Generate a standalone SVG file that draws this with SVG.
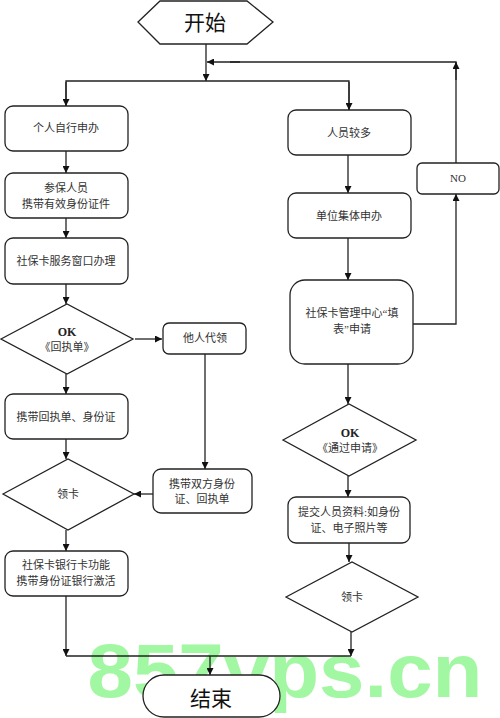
<svg xmlns="http://www.w3.org/2000/svg" width="500" height="718" viewBox="0 0 500 718">
<defs>
<marker id="ah" viewBox="0 0 10 10" refX="10" refY="5" markerWidth="7" markerHeight="7" markerUnits="userSpaceOnUse" orient="auto">
<path d="M0,0 L10,5 L0,10 z" fill="#111"/>
</marker>
<style>
.n{fill:#fff;stroke:#222;stroke-width:1.3}
.t{font-family:"Liberation Serif","Noto Sans CJK SC",serif;font-size:11px;fill:#333;text-anchor:middle}
.b{font-family:"Liberation Serif","Noto Sans CJK SC",serif;font-size:12px;font-weight:bold;fill:#222;text-anchor:middle}
.big{font-family:"Noto Sans CJK SC",sans-serif;font-size:21px;fill:#111;text-anchor:middle}
.c{fill:none;stroke:#222;stroke-width:1.3}
.ca{fill:none;stroke:#222;stroke-width:1.3;marker-end:url(#ah)}
</style>
</defs>
<rect width="500" height="718" fill="#fff"/>
<text x="285" y="697" font-family="Liberation Sans, sans-serif" font-weight="bold" font-size="76" fill="#a2f7a2" text-anchor="middle" textLength="395" lengthAdjust="spacingAndGlyphs">857vps.cn</text>
<g id="connectors">
<line class="ca" x1="206" y1="44" x2="206" y2="81"/>
<polyline class="c" points="66,106 66,81 349,81 349,110"/>
<line class="ca" x1="66" y1="82" x2="66" y2="106"/>
<line class="ca" x1="349" y1="82" x2="349" y2="110"/>
<line class="ca" x1="66" y1="151" x2="66" y2="173"/>
<line class="ca" x1="66" y1="218" x2="66" y2="238"/>
<line class="ca" x1="66" y1="284" x2="66" y2="304"/>
<line class="ca" x1="135" y1="339" x2="162" y2="339"/>
<line class="ca" x1="66" y1="374" x2="66" y2="394"/>
<line class="ca" x1="205" y1="354" x2="205" y2="469"/>
<line class="ca" x1="66" y1="439" x2="66" y2="459"/>
<line class="ca" x1="153" y1="494" x2="134" y2="494"/>
<line class="ca" x1="66" y1="530" x2="66" y2="551"/>
<line class="ca" x1="66" y1="596" x2="66" y2="656"/>
<line class="c" x1="66" y1="656" x2="351" y2="656"/>
<line class="ca" x1="210" y1="656" x2="210" y2="675"/>
<line class="ca" x1="348" y1="155" x2="348" y2="193"/>
<line class="ca" x1="348" y1="238" x2="348" y2="280"/>
<polyline class="ca" points="413,324 456,324 456,194"/>
<polyline class="c" points="456,163 456,62 230,62"/>
<line class="ca" x1="456" y1="80" x2="456" y2="62"/>
<line class="ca" x1="240" y1="62" x2="207" y2="62"/>
<line class="ca" x1="348" y1="364" x2="348" y2="404"/>
<line class="ca" x1="348" y1="476" x2="348" y2="497"/>
<line class="ca" x1="349" y1="543" x2="349" y2="562"/>
<line class="ca" x1="351" y1="632" x2="351" y2="656"/>
</g>
<g id="start">
<polygon class="n" points="138,22 160,1 247,1 273,22 247,44 160,44"/>
<text class="big" x="205" y="30">开始</text>
</g>
<g id="self">
<rect class="n" x="5" y="106" width="123" height="45" rx="8"/>
<text class="t" x="66" y="132">个人自行申办</text>
</g>
<g id="bring-id">
<rect class="n" x="5" y="173" width="123" height="45" rx="8"/>
<text class="t" x="66" y="192">参保人员</text>
<text class="t" x="66" y="208">携带有效身份证件</text>
</g>
<g id="window">
<rect class="n" x="5" y="238" width="123" height="46" rx="8"/>
<text class="t" x="66" y="265">社保卡服务窗口办理</text>
</g>
<g id="ok1">
<polygon class="n" points="1,339 67,304 133,339 67,374"/>
<text class="b" x="67" y="336">OK</text>
<text class="t" x="67" y="351">《回执单》</text>
</g>
<g id="proxy">
<rect class="n" x="163" y="323" width="83" height="31" rx="6"/>
<text class="t" x="205" y="342">他人代领</text>
</g>
<g id="bring-receipt">
<rect class="n" x="5" y="394" width="123" height="45" rx="8"/>
<text class="t" x="66" y="421">携带回执单、身份证</text>
</g>
<g id="collect1">
<polygon class="n" points="3,494 68,459 134,494 68,530"/>
<text class="t" x="68" y="498">领卡</text>
</g>
<g id="proxy-docs">
<rect class="n" x="153" y="469" width="99" height="44" rx="8"/>
<text class="t" x="202" y="488">携带双方身份</text>
<text class="t" x="202" y="503">证、回执单</text>
</g>
<g id="activate">
<rect class="n" x="5" y="551" width="123" height="45" rx="8"/>
<text class="t" x="66" y="569">社保卡银行卡功能</text>
<text class="t" x="66" y="585">携带身份证银行激活</text>
</g>
<g id="many">
<rect class="n" x="288" y="110" width="123" height="45" rx="8"/>
<text class="t" x="349" y="137">人员较多</text>
</g>
<g id="unit">
<rect class="n" x="288" y="193" width="123" height="45" rx="8"/>
<text class="t" x="349" y="220">单位集体申办</text>
</g>
<g id="form">
<rect class="n" x="290" y="280" width="123" height="84" rx="15"/>
<text class="t" x="352" y="317">社保卡管理中心“填</text>
<text class="t" x="352" y="333">表”申请</text>
</g>
<g id="no">
<rect class="n" x="417" y="163" width="82" height="31" rx="5"/>
<text class="t" x="458" y="182">NO</text>
</g>
<g id="ok2">
<polygon class="n" points="283,440 349,404 416,440 349,476"/>
<text class="b" x="350" y="437">OK</text>
<text class="t" x="350" y="452">《通过申请》</text>
</g>
<g id="submit">
<rect class="n" x="288" y="497" width="122" height="46" rx="8"/>
<text class="t" x="349" y="516">提交人员资料:如身份</text>
<text class="t" x="349" y="532">证、电子照片等</text>
</g>
<g id="collect2">
<polygon class="n" points="286,597 352,562 418,597 352,632"/>
<text class="t" x="352" y="601">领卡</text>
</g>
<g id="end">
<rect class="n" x="143" y="675" width="137" height="42" rx="21"/>
<text class="big" x="211" y="706" font-size="22">结束</text>
</g>
</svg>
